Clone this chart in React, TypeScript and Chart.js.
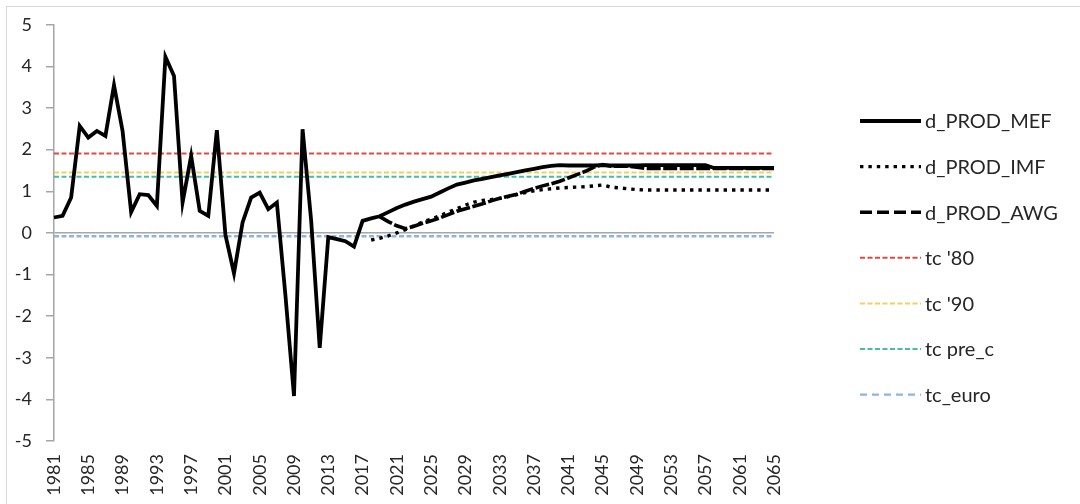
import React, { useEffect, useRef } from "react";
import { Chart, registerables } from "chart.js";

Chart.register(...registerables);

// Categories: years 1981..2065
const years: string[] = Array.from({ length: 85 }, (_, i) => String(1981 + i));

// d_PROD_MEF (historical 1981-2018, projection 2019-2065)
const mefValues: number[] = [
  0.37, 0.41, 0.85, 2.57, 2.29, 2.45, 2.33, 3.55, 2.45, 0.5,
  0.93, 0.91, 0.65, 4.23, 3.77, 0.73, 1.85, 0.53, 0.41, 2.47,
  -0.05, -0.97, 0.25, 0.85, 0.97, 0.57, 0.73, -1.5, -3.92, 2.49,
  0.3, -2.76, -0.1, -0.15, -0.2, -0.33, 0.29, 0.35,
  // 2019 ->
  0.4, 0.5, 0.6, 0.68, 0.75, 0.81, 0.87, 0.97, 1.07, 1.16,
  1.21, 1.26, 1.3, 1.34, 1.38, 1.42, 1.46, 1.5, 1.54, 1.58,
  1.61, 1.63, 1.62, 1.62, 1.62, 1.62, 1.63, 1.62, 1.62, 1.62,
  1.62, 1.63, 1.63, 1.63, 1.63, 1.63, 1.63, 1.63, 1.63, 1.56,
  1.56, 1.56, 1.56, 1.56, 1.56, 1.56, 1.56,
];

// d_PROD_IMF (2018-2065)
const imfValues: (number | null)[] = [
  ...Array(37).fill(null),
  -0.17, -0.13, -0.07, 0.0, 0.08, 0.17, 0.26, 0.33, 0.41, 0.5,
  0.58, 0.67, 0.74, 0.78, 0.8, 0.83, 0.87, 0.92, 0.97, 1.01,
  1.04, 1.06, 1.08, 1.09, 1.1, 1.11, 1.13, 1.15, 1.1, 1.08,
  1.06, 1.04, 1.03, 1.03, 1.03, 1.03, 1.03, 1.03, 1.03, 1.03,
  1.03, 1.03, 1.03, 1.03, 1.03, 1.03, 1.03, 1.03,
];

// d_PROD_AWG (2019-2065)
const awgValues: (number | null)[] = [
  ...Array(38).fill(null),
  0.39, 0.27, 0.17, 0.1, 0.16, 0.23, 0.29, 0.36, 0.44, 0.52,
  0.58, 0.64, 0.7, 0.77, 0.83, 0.88, 0.93, 1.0, 1.07, 1.13,
  1.18, 1.24, 1.32, 1.4, 1.48, 1.58, 1.64, 1.6, 1.6, 1.6,
  1.58, 1.55, 1.55, 1.55, 1.55, 1.55, 1.55, 1.55, 1.55, 1.55,
  1.55, 1.55, 1.55, 1.55, 1.55, 1.55, 1.55,
];

// Trend levels (horizontal reference lines)
const tc80Level = 1.91;
const tc90Level = 1.45;
const tcPreCLevel = 1.35;
const tcEuroLevel = -0.08;

// Y axis range
const yMin = -5;
const yMax = 5;

const FONT = "Lato, 'DejaVu Sans', sans-serif";

const sideLegend = {
  id: "sideLegend",
  afterDraw(chart: any) {
    const ctx = chart.ctx as CanvasRenderingContext2D;
    const top = 121;
    const step = 45.6;
    chart.data.datasets.forEach((ds: any, i: number) => {
      const y = top + i * step;
      ctx.save();
      ctx.strokeStyle = ds.borderColor;
      ctx.lineWidth = ds.legendWidth ?? ds.borderWidth;
      ctx.setLineDash(ds.legendDash ?? ds.borderDash ?? []);
      ctx.lineCap = "butt";
      ctx.beginPath();
      ctx.moveTo(860, y);
      ctx.lineTo(921, y);
      ctx.stroke();
      ctx.setLineDash([]);
      ctx.fillStyle = "#262626";
      ctx.font = `20px ${FONT}`;
      ctx.textBaseline = "middle";
      ctx.textAlign = "left";
      ctx.fillText(ds.label, 925, y + 1);
      ctx.restore();
    });
  },
};

export default function App() {
  const ref = useRef<HTMLCanvasElement>(null);

  useEffect(() => {
    if (!ref.current) return;
    const flat = (v: number) => years.map(() => v);
    const chart = new Chart(ref.current, {
      type: "line",
      data: {
        labels: years,
        datasets: [
          {
            label: "d_PROD_MEF",
            data: mefValues,
            borderColor: "#000000",
            borderWidth: 3.8,
            pointRadius: 0,
            tension: 0,
          },
          {
            label: "d_PROD_IMF",
            data: imfValues,
            borderColor: "#000000",
            borderWidth: 3.4,
            borderDash: [3.4, 5],
            pointRadius: 0,
            tension: 0,
          },
          {
            label: "d_PROD_AWG",
            data: awgValues,
            borderColor: "#000000",
            borderWidth: 3.6,
            borderDash: [14, 2.5],
            legendDash: [12, 5],
            pointRadius: 0,
            tension: 0,
          } as any,
          {
            label: "tc '80",
            data: flat(tc80Level),
            borderColor: "#e8473f",
            borderWidth: 2,
            borderDash: [5, 2.5],
            pointRadius: 0,
          },
          {
            label: "tc '90",
            data: flat(tc90Level),
            borderColor: "#f3cf5c",
            borderWidth: 2,
            borderDash: [5, 2.5],
            pointRadius: 0,
          },
          {
            label: "tc pre_c",
            data: flat(tcPreCLevel),
            borderColor: "#45bf9e",
            borderWidth: 2,
            borderDash: [5, 2.5],
            pointRadius: 0,
          },
          {
            label: "tc_euro",
            data: flat(tcEuroLevel),
            borderColor: "#8fb4df",
            borderWidth: 2.4,
            borderDash: [5, 2.5],
            legendDash: [7, 5],
            pointRadius: 0,
          } as any,
        ],
      },
      options: {
        animation: false,
        responsive: false,
        maintainAspectRatio: false,
        layout: { padding: { top: 24, right: 306, bottom: 0, left: 0 } },
        plugins: {
          legend: { display: false },
          tooltip: { enabled: false },
        },
        elements: { line: { borderCapStyle: "butt", borderJoinStyle: "miter" } },
        scales: {
          x: {
            grid: { display: false, drawTicks: false },
            border: { display: false },
            ticks: {
              autoSkip: false,
              minRotation: 90,
              maxRotation: 90,
              padding: 13,
              color: "#262626",
              font: { family: FONT, size: 18 },
              callback: (_v: any, i: number) => (i % 4 === 0 ? years[i] : null),
            },
            afterFit: (s: any) => {
              s.height = 63;
            },
          },
          y: {
            min: yMin,
            max: yMax,
            ticks: {
              stepSize: 1,
              padding: 14,
              color: "#262626",
              font: { family: FONT, size: 18 },
            },
            grid: {
              color: (c: any) =>
                c.tick && c.tick.value === 0 ? "#a6a6a6" : "rgba(0,0,0,0)",
              tickColor: "#a6a6a6",
              tickLength: 8,
              lineWidth: 1.5,
            },
            border: { display: true, color: "#a6a6a6", width: 1.5 },
            afterFit: (s: any) => {
              s.width = 54;
            },
          },
        },
      },
      plugins: [sideLegend],
    });
    return () => chart.destroy();
  }, []);

  return (
    <div
      style={{
        position: "fixed",
        left: 0,
        top: 0,
        width: 1080,
        height: 504,
        overflow: "hidden",
        background: "#ffffff",
      }}
    >
      <div
        style={{
          position: "absolute",
          left: 6,
          top: 6,
          width: 1200,
          height: 800,
          border: "1px solid #d9d9d9",
        }}
      />
      <canvas
        ref={ref}
        width={1080}
        height={504}
        style={{ position: "absolute", left: 0, top: 0, width: 1080, height: 504 }}
      />
    </div>
  );
}
